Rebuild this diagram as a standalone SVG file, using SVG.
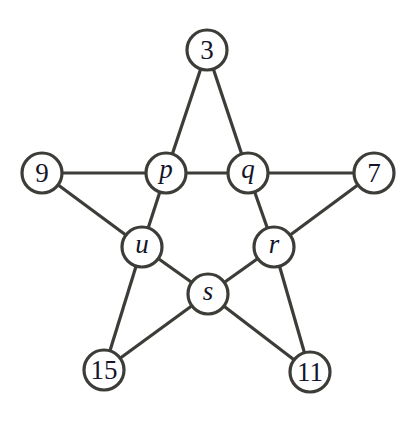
<svg xmlns="http://www.w3.org/2000/svg" width="420" height="423" viewBox="0 0 420 423">
<style>
.e{stroke:#3c3c38;stroke-width:3.2;fill:none}
.n circle{fill:#fff;stroke:#3c3c38;stroke-width:3.2}
.n text{font-family:"Liberation Serif","Times New Roman",serif;font-size:27px;fill:#15152a;text-anchor:middle}
.i text{font-style:italic}
</style>
<rect width="420" height="423" fill="#fff"/>
<g id="edges">
<line class="e" x1="207" y1="50" x2="166" y2="173"/>
<line class="e" x1="207" y1="50" x2="248" y2="173"/>
<line class="e" x1="42" y1="173" x2="374" y2="173"/>
<line class="e" x1="42" y1="173" x2="142" y2="247"/>
<line class="e" x1="166" y1="173" x2="142" y2="247"/>
<line class="e" x1="248" y1="173" x2="274" y2="247"/>
<line class="e" x1="374" y1="173" x2="274" y2="247"/>
<line class="e" x1="142" y1="247" x2="208" y2="294"/>
<line class="e" x1="274" y1="247" x2="208" y2="294"/>
<line class="e" x1="142" y1="247" x2="104" y2="370"/>
<line class="e" x1="208" y1="294" x2="104" y2="370"/>
<line class="e" x1="274" y1="247" x2="310" y2="372"/>
<line class="e" x1="208" y1="294" x2="310" y2="372"/>
</g>
<g id="n3" class="n"><circle cx="207" cy="50" r="20"/><text x="207" y="59">3</text></g>
<g id="n9" class="n"><circle cx="42" cy="173" r="20"/><text x="42" y="182">9</text></g>
<g id="np" class="n i"><circle cx="166" cy="173" r="20"/><text x="166" y="178">p</text></g>
<g id="nq" class="n i"><circle cx="248" cy="173" r="20"/><text x="248" y="178">q</text></g>
<g id="n7" class="n"><circle cx="374" cy="173" r="20"/><text x="374" y="182">7</text></g>
<g id="nu" class="n i"><circle cx="142" cy="247" r="20"/><text x="142" y="253">u</text></g>
<g id="nr" class="n i"><circle cx="274" cy="247" r="20"/><text x="274" y="253">r</text></g>
<g id="ns" class="n i"><circle cx="208" cy="294" r="20"/><text x="208" y="300">s</text></g>
<g id="n15" class="n"><circle cx="104" cy="370" r="20"/><text x="104" y="379">15</text></g>
<g id="n11" class="n"><circle cx="310" cy="372" r="20"/><text x="310" y="381">11</text></g>
</svg>
